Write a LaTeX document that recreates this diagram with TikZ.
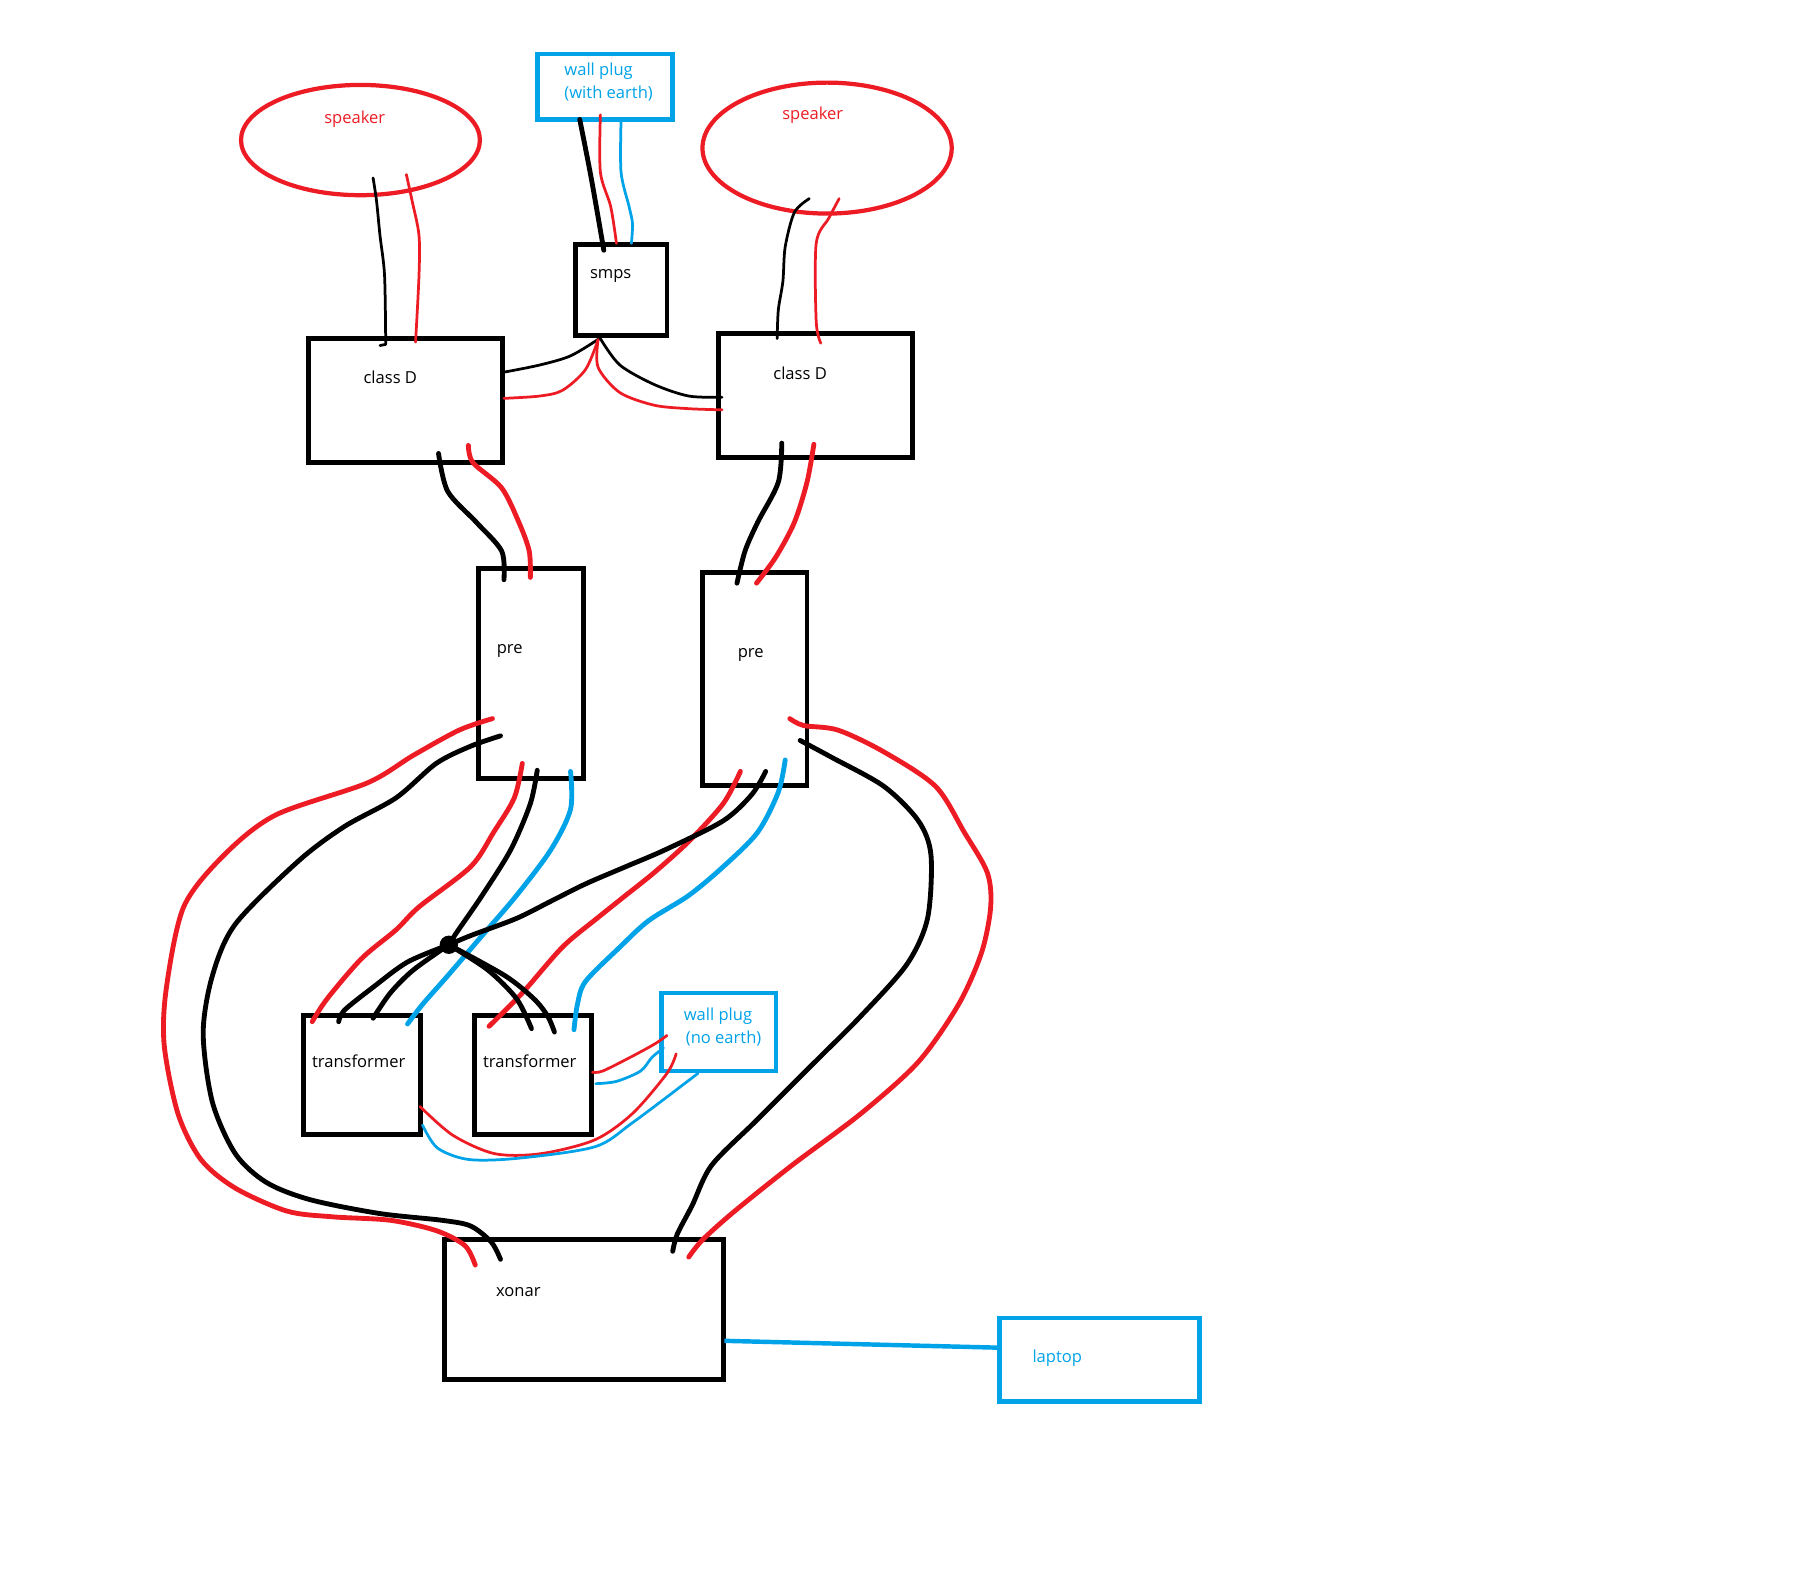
\documentclass[tikz,border=0pt]{standalone}
\usepackage{fontspec}
\setmainfont{Open Sans}
\definecolor{pred}{HTML}{ED1C24}
\definecolor{pcyan}{HTML}{00A2E8}
\tikzset{
  kbox/.style={draw=black,line width=1.2pt,inner sep=0pt,outer sep=0pt,fill=none},
  cbox/.style={draw=pcyan,line width=1.15pt,inner sep=0pt,outer sep=0pt,fill=none},
  spk/.style={draw=pred,ellipse,line width=1.05pt,inner sep=0pt,outer sep=0pt},
  lab/.style={inner sep=0pt,yshift=-.5pt,font=\fontsize{4.1}{5.7}\selectfont},
  wire/.style={line cap=round,line join=round},
  kthick/.style={wire,draw=black,line width=1.2pt},
  rthick/.style={wire,draw=pred,line width=1.2pt},
  cthick/.style={wire,draw=pcyan,line width=1.2pt},
  kthin/.style={wire,draw=black,line width=.68pt},
  rthin/.style={wire,draw=pred,line width=.68pt},
  cthin/.style={wire,draw=pcyan,line width=.68pt},
}
\usetikzlibrary{shapes.geometric}
\begin{document}
\begin{tikzpicture}[x=0.01cm,y=-0.01cm]
\useasboundingbox (0,0) rectangle (1568,1366);
% boxes
\node[spk,minimum width=2.08cm,minimum height=.96cm] (spkL) at (314,122) {};
\node[spk,minimum width=2.17cm,minimum height=1.14cm] (spkR) at (720.5,129) {};
\node[cbox,minimum width=1.18cm,minimum height=.57cm] (plugE) at (527,75.5) {};
\node[kbox,minimum width=.80cm,minimum height=.79cm] (smps) at (541,252.5) {};
\node[kbox,minimum width=1.69cm,minimum height=1.08cm] (cdL) at (353.5,349) {};
\node[kbox,minimum width=1.69cm,minimum height=1.08cm] (cdR) at (710.5,344.5) {};
\node[kbox,minimum width=.91cm,minimum height=1.83cm] (preL) at (462.5,586.5) {};
\node[kbox,minimum width=.91cm,minimum height=1.85cm] (preR) at (657.5,591.5) {};
\node[kbox,minimum width=1.02cm,minimum height=1.03cm] (trL) at (315.5,936.5) {};
\node[kbox,minimum width=1.02cm,minimum height=1.03cm] (trR) at (464.5,936.5) {};
\node[cbox,minimum width=1.00cm,minimum height=.68cm] (plugN) at (626,899) {};
\node[kbox,minimum width=2.43cm,minimum height=1.22cm] (xonar) at (508.5,1141) {};
\node[cbox,minimum width=1.74cm,minimum height=.73cm] (laptop) at (958,1184.5) {};
% labels
\node[lab,text=pred] (tS1) at (309,102) {speaker};
\node[lab,text=pred] (tS2) at (708,99) {speaker};
\node[lab,text=pcyan,align=left,anchor=west] (tP1) at (491,70) {wall plug\\(with earth)};
\node[lab] (tSm) at (532,239) {smps};
\node[lab] (tC1) at (340,327) {class D};
\node[lab] (tC2) at (697,323) {class D};
\node[lab] (tPr1) at (444,565) {pre};
\node[lab] (tPr2) at (654,569) {pre};
\node[lab] (tT1) at (312.5,923) {transformer};
\node[lab] (tT2) at (461.5,923) {transformer};
\node[lab,text=pcyan,align=left,anchor=west] (tP2) at (595,893) {wall plug\\\hspace*{.5pt}(no earth)};
\node[lab] (tX) at (451.5,1124) {xonar};
\node[lab,text=pcyan] (tL) at (921,1181) {laptop};
% hub
\node[circle,fill=black,inner sep=0pt,outer sep=0pt,minimum size=.16cm] (hub) at (391,823) {};
% speaker wires
\draw[kthin] plot[smooth] coordinates {(325,155) (328,175) (331,205) (335,240) (336,300)} -- (331,301);
\draw[rthin] plot[smooth] coordinates {(354,152) (359,175) (365,205) (365,240) (362,298)};
\draw[kthin] plot[smooth] coordinates {(705,173) (692,185) (684,215) (682,245) (678,270) (677,295)};
\draw[rthin] plot[smooth] coordinates {(731,173) (722,190) (711,212) (711,280) (715,299)};
% plug to smps
\draw[kthick] plot[smooth] coordinates {(505,104) (515,155) (526,218)};
\draw[rthin] plot[smooth] coordinates {(523,100) (523,150) (532,180) (537,212)};
\draw[cthin] plot[smooth] coordinates {(541,105) (541,150) (548,180) (551,195) (550,212)};
% smps to class D
\draw[kthin] plot[smooth] coordinates {(522,295) (497,310) (470,318) (440,324)};
\draw[rthin] plot[smooth] coordinates {(521,296) (510,322) (490,340) (470,345) (439,347)};
\draw[kthin] plot[smooth] coordinates {(523,295) (540,318) (570,335) (600,345) (629,346)};
\draw[rthin] plot[smooth] coordinates {(521,296) (521,320) (540,342) (570,353) (600,356) (629,357)};
% class D to pre
\draw[kthick] plot[smooth] coordinates {(382,395) (390,428) (415,455) (437,480) (439,505)};
\draw[rthick] plot[smooth] coordinates {(408,388) (412,403) (437,425) (452,455) (461,480) (462,503)};
\draw[kthick] plot[smooth] coordinates {(681,386) (678,420) (660,455) (649,480) (642,508)};
\draw[rthick] plot[smooth] coordinates {(709,387) (703,420) (692,455) (676,485) (659,508)};
% pre L to xonar
\draw[rthick] plot[smooth] coordinates {(429,626) (400,636) (360,658) (320,682) (240,710) (195,745) (160,790) (145,860) (143,910) (155,970) (175,1010) (205,1035) (250,1055) (290,1060) (340,1063) (380,1072) (405,1085) (414,1102)};
\draw[kthick] plot[smooth] coordinates {(436,641) (410,650) (380,665) (345,695) (300,720) (260,750) (205,805) (185,850) (177,900) (185,960) (205,1005) (232,1030) (270,1045) (330,1057) (385,1063) (410,1068) (428,1082) (436,1097)};
% pre L to transformers
\draw[rthick] plot[smooth] coordinates {(455,665) (448,695) (430,725) (410,755) (365,790) (345,810) (315,835) (285,870) (272,890)};
\draw[kthick] plot[smooth] coordinates {(468,671) (462,700) (445,740) (420,780) (398,812) (hub)};
\draw[cthick] plot[smooth] coordinates {(497,672) (497,705) (480,740) (450,780) (420,815) (390,850) (368,875) (355,892)};
% pre R to transformers
\draw[rthick] plot[smooth] coordinates {(645,672) (630,700) (600,733) (570,760) (545,780) (520,800) (490,825) (455,865) (426,894)};
\draw[kthick] plot[smooth] coordinates {(667,672) (655,692) (630,715) (580,740) (545,755) (510,770) (480,785) (450,800) (410,815) (hub)};
\draw[cthick] plot[smooth] coordinates {(684,662) (678,690) (660,725) (630,755) (600,780) (565,802) (540,825) (510,855) (503,875) (500,897)};
% pre R to xonar
\draw[rthick] plot[smooth] coordinates {(688,626) (700,632) (730,636) (770,655) (815,685) (840,725) (860,760) (863,790) (855,830) (835,875) (800,925) (750,970) (690,1015) (640,1055) (612,1080) (600,1095)};
\draw[kthick] plot[smooth] coordinates {(697,645) (725,660) (770,685) (800,715) (811,745) (808,800) (790,840) (750,885) (710,925) (660,975) (620,1015) (603,1050) (590,1075) (586,1090)};
% hub to transformers
\draw[kthick] plot[smooth] coordinates {(hub) (355,838) (325,860) (300,880) (295,890)};
\draw[kthick] plot[smooth] coordinates {(hub) (360,845) (340,865) (325,887)};
\draw[kthick] plot[smooth] coordinates {(hub) (425,845) (450,870) (463,896)};
\draw[kthick] plot[smooth] coordinates {(hub) (440,850) (465,870) (477,885) (483,899)};
% transformers to wall plug
\draw[rthin] plot[smooth] coordinates {(516,934) (525,933) (551,920) (571,909) (581,902)};
\draw[cthin] plot[smooth] coordinates {(519,944) (537,942) (558,933) (568,921) (578,913)};
\draw[rthin] plot[smooth] coordinates {(366,964) (394.6,989) (431,1005) (471,1005) (518,993) (551,970) (581,935) (589,918)};
\draw[cthin] plot[smooth] coordinates {(368,980) (381,1000) (408,1010) (451,1009) (518,999) (551,978) (608,935)};
% xonar to laptop
\draw[line width=1.1pt,draw=pcyan] (631,1168) -- (laptop.west |- 0,1174);
\end{tikzpicture}
\end{document}
